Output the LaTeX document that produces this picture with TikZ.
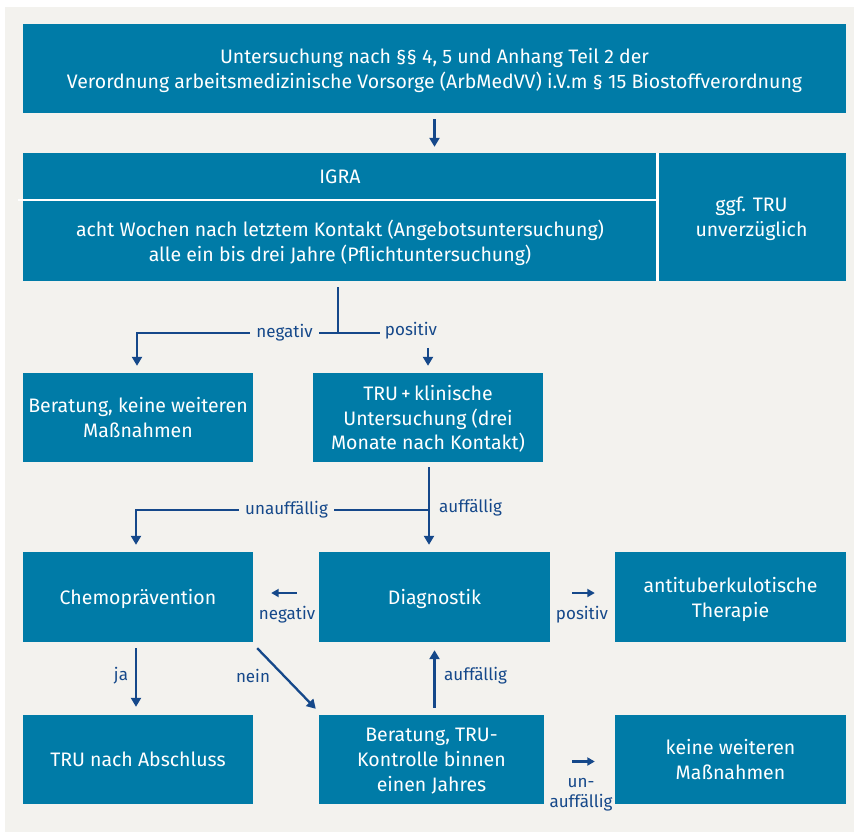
\documentclass[tikz,border=0pt]{standalone}
\usepackage{fontspec}
\setmainfont{Fira Sans}
\usetikzlibrary{arrows.meta,calc}
\definecolor{boxblue}{HTML}{007BA7}
\definecolor{arrblue}{HTML}{15488A}
\definecolor{bg}{HTML}{F3F2EE}
\begin{document}
\begin{tikzpicture}[x=1pt,y=-1pt,
  box/.style={fill=boxblue,text=white,align=center,inner sep=0pt,font=\fontsize{19.5}{24.8}\selectfont,text depth=-1.5pt},
  arr/.style={draw=arrblue,line width=2.3pt,-{Triangle[width=10pt,length=9pt]}},
  sarr/.style={draw=arrblue,line width=2.3pt,-{Triangle[width=8pt,length=7.5pt]}},
  ln/.style={draw=arrblue,line width=2.3pt},
  lbl/.style={text=arrblue,font=\fontsize{17}{20}\selectfont,inner sep=0pt,align=center},
  gaplbl/.style={lbl,fill=bg,inner xsep=6pt,inner ysep=3pt}]
\useasboundingbox (0,0) rectangle (854,833);
\fill[white] (0,0) rectangle (854,833);
\fill[bg] (5,7) rectangle (854,832);

% boxes
\node[box,minimum width=823pt,minimum height=89pt] (top) at (434.5,68.5)
  {Untersuchung nach §§ 4, 5 und Anhang Teil 2 der\\Verordnung arbeitsmedizinische Vorsorge (ArbMedVV) i.V.m § 15 Biostoffverordnung};
\node[box,minimum width=634pt,minimum height=47pt] (igra) at (340,176.5) {IGRA};
\node[box,minimum width=634pt,minimum height=81pt] (acht) at (340,240.5)
  {acht Wochen nach letztem Kontakt (Angebotsuntersuchung)\\alle ein bis drei Jahre (Pflichtuntersuchung)};
\node[box,minimum width=189pt,minimum height=128pt] (ggf) at (751.5,217) {ggf. TRU\\unverzüglich};
\draw[white,line width=2.5pt] ($(igra.south west)+(-5,0)$) -- (igra.south east);
\draw[white,line width=3pt] (igra.north east) -- (acht.south east);

\node[box,minimum width=230pt,minimum height=89pt] (berat1) at (138,417.5) {Beratung, keine weiteren\\Maßnahmen};
\node[box,minimum width=230pt,minimum height=89pt] (trukl) at (428,417.5) {TRU\,+\,klinische\\Untersuchung (drei\\Monate nach Kontakt)};

\node[box,minimum width=230pt,minimum height=90pt] (chemo) at (138,597) {Chemoprävention};
\node[box,minimum width=231pt,minimum height=90pt] (diag) at (434.5,597) {Diagnostik};
\node[box,minimum width=231pt,minimum height=90pt] (anti) at (730.5,597) {antituberkulotische\\Therapie};

\node[box,minimum width=230pt,minimum height=89pt] (truab) at (138,759.5) {TRU nach Abschluss};
\node[box,minimum width=225pt,minimum height=89pt] (berat2) at (431.5,759.5) {Beratung, TRU-\\Kontrolle binnen\\einen Jahres};
\node[box,minimum width=231pt,minimum height=89pt] (keine) at (730.5,759.5) {keine weiteren\\Maßnahmen};

% top -> IGRA
\draw[arr] ($(top.south)+(0,6)$) -- ($(top.south |- igra.north)+(0,-6)$);

% IGRA branch
\coordinate (j1) at ($(acht.south)+(-2,52)$);
\draw[ln] ($(acht.south)+(-2,6)$) -- (j1);
\draw[arr] (j1) -| ($(berat1.north)+(-1,-7)$);
\draw[ln] (j1) -- ++(42,0);
\node[gaplbl] at (284.5,333) {negativ};
\node[lbl] at (411,331) {positiv};
\draw[arr] ($(trukl.north)+(0,-25)$) -- ($(trukl.north)+(0,-7)$);

% TRU klinisch -> Diagnostik / Chemo
\coordinate (j2) at ($(trukl.south)+(1,48)$);
\draw[arr] ($(trukl.south)+(1,5)$) -- ($(trukl.south |- diag.north)+(1,-7)$);
\draw[arr] (j2) -| ($(chemo.north)+(-2,-7)$);
\node[gaplbl] at (286.5,510) {unauffällig};
\node[lbl,anchor=west] at (439,508) {auffällig};

% Diagnostik -> Chemo / Anti
\draw[sarr] ($(diag.west)+(-22,-4)$) -- ($(chemo.east)+(18,-4)$);
\node[lbl] at (287,615) {negativ};
\draw[sarr] ($(diag.east)+(22,-4)$) -- ($(anti.west)+(-20,-4)$);
\node[lbl] at (582,615) {positiv};

% Chemo -> TRU nach Abschluss / Beratung
\draw[arr] ($(chemo.south)+(-2,6)$) -- ($(truab.north)+(-2,-8)$);
\node[lbl] at (121,676) {ja};
\draw[arr] ($(chemo.south east)+(4,6)$) -- ($(berat2.north west)+(-3,-6)$);
\node[lbl] at (253,676) {nein};

% Beratung -> Diagnostik
\draw[arr] ($(diag.south |- berat2.north)+(0,-7)$) -- ($(diag.south)+(0,8)$);
\node[lbl,anchor=west] at (444,676) {auffällig};

% Beratung -> keine
\draw[sarr] ($(berat2.east)+(28,2)$) -- ($(keine.west)+(-20,2)$);
\node[lbl] at (581,795) {un-\\auffällig};
\end{tikzpicture}
\end{document}
